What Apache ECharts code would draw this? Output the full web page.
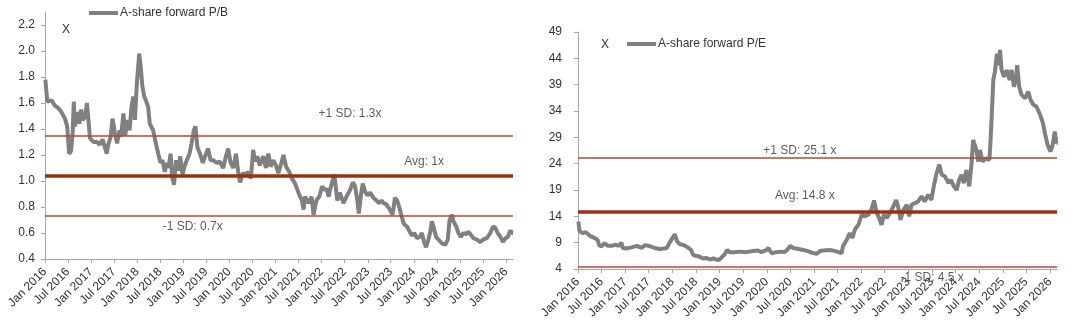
<!DOCTYPE html>
<html><head><meta charset="utf-8">
<script src="https://cdn.jsdelivr.net/npm/echarts@6/dist/echarts.min.js"></script>
<style>html,body{margin:0;padding:0;background:#fff}#c{width:1080px;height:326px}</style>
</head><body><div id="c"></div>
<script>
const tickLabels = ['Jan 2016','Jul 2016','Jan 2017','Jul 2017','Jan 2018','Jul 2018','Jan 2019','Jul 2019','Jan 2020','Jul 2020','Jan 2021','Jul 2021','Jan 2022','Jul 2022','Jan 2023','Jul 2023','Jan 2024','Jul 2024','Jan 2025','Jul 2025','Jan 2026'];
const pbTicks = [0.4,0.6,0.8,1.0,1.2,1.4,1.6,1.8,2.0,2.2];
const peTicks = [4,9,14,19,24,29,34,39,44,49];

const pbName = 'A-share forward P/B';
const peName = 'A-share forward P/E';

const pbDates = ['2016-01-04','2016-01-19','2016-02-22','2016-03-19','2016-04-16','2016-05-10','2016-06-07','2016-06-25','2016-07-10','2016-07-25','2016-08-07','2016-08-16','2016-08-25','2016-09-13','2016-09-28','2016-10-13','2016-10-25','2016-11-13','2016-11-28','2016-12-10','2016-12-22','2017-01-19','2017-02-16','2017-03-10','2017-04-01','2017-04-19','2017-05-04','2017-05-16','2017-06-04','2017-06-19','2017-07-07','2017-07-25','2017-08-13','2017-08-25','2017-09-13','2017-09-28','2017-10-13','2017-11-01','2017-11-16','2017-12-01','2017-12-13','2017-12-28','2018-01-16','2018-01-28','2018-02-10','2018-02-25','2018-03-10','2018-03-28',
'2018-04-10','2018-05-07','2018-05-28','2018-06-16','2018-07-04','2018-07-19','2018-08-07','2018-08-22','2018-09-04','2018-09-22','2018-10-04','2018-10-19','2018-11-04','2018-11-19','2018-12-07','2018-12-25','2019-01-10','2019-01-28','2019-02-19','2019-03-07','2019-03-25','2019-04-07','2019-04-22','2019-05-13','2019-06-04','2019-06-22','2019-07-16','2019-08-04','2019-08-25','2019-09-22','2019-10-16','2019-11-13','2019-12-04','2019-12-22','2020-01-10','2020-02-01','2020-02-22','2020-03-10','2020-03-25','2020-04-16','2020-05-04','2020-05-28','2020-06-19','2020-07-07','2020-07-22','2020-08-10','2020-08-28','2020-09-25','2020-10-16','2020-11-04','2020-11-22','2020-12-13','2021-01-04','2021-01-22','2021-02-16','2021-03-04','2021-03-25','2021-04-19',
'2021-05-10','2021-06-04','2021-07-01','2021-07-28','2021-08-10','2021-08-22','2021-09-19','2021-10-13','2021-10-28','2021-11-19','2021-12-13','2022-01-04','2022-01-22','2022-02-07','2022-02-25','2022-03-07','2022-03-22','2022-04-10','2022-04-25','2022-05-04','2022-05-25','2022-06-22','2022-07-16','2022-08-13','2022-09-04','2022-09-22','2022-10-10','2022-10-22','2022-11-07','2022-11-22','2022-12-10','2022-12-28','2023-01-19','2023-02-16','2023-03-10','2023-04-01','2023-04-19','2023-05-07','2023-05-28','2023-06-25','2023-07-16','2023-08-04','2023-08-22','2023-09-07','2023-09-25','2023-10-13','2023-11-07','2023-11-28','2023-12-16','2024-01-04','2024-01-25','2024-02-16','2024-03-04','2024-03-22','2024-04-07','2024-04-25','2024-05-10','2024-05-22','2024-06-04','2024-06-25','2024-07-13','2024-08-10','2024-09-07','2024-09-25','2024-10-10','2024-10-28','2024-11-10','2024-12-01','2024-12-19','2025-01-07','2025-01-28','2025-02-19','2025-03-07','2025-03-25','2025-04-16','2025-05-13','2025-06-10','2025-07-04','2025-08-01','2025-08-28','2025-09-19','2025-10-07','2025-10-25','2025-11-16','2025-12-07','2025-12-25','2026-01-13','2026-02-04','2026-02-16','2026-02-24'];
const pbValues = [1.78,1.61,1.62,1.58,1.56,1.53,1.48,1.42,1.21,1.23,1.37,1.61,1.42,1.53,1.44,1.55,1.47,1.49,1.60,1.47,1.33,1.30,1.30,1.28,1.32,1.26,1.21,1.28,1.34,1.48,1.37,1.29,1.39,1.34,1.52,1.35,1.47,1.39,1.57,1.65,1.47,1.74,1.98,1.88,1.73,1.65,1.62,1.57,
1.44,1.39,1.29,1.21,1.14,1.16,1.07,1.14,1.10,1.21,1.03,0.97,1.16,1.08,1.19,1.05,1.11,1.16,1.21,1.29,1.39,1.42,1.26,1.21,1.14,1.19,1.25,1.16,1.16,1.14,1.15,1.10,1.19,1.25,1.14,1.10,1.21,1.07,0.99,1.06,1.05,1.07,1.02,1.24,1.15,1.19,1.12,1.19,1.10,1.21,1.11,1.16,1.12,1.06,1.14,1.20,1.11,1.07,
1.02,0.98,0.91,0.85,0.78,0.88,0.83,0.88,0.74,0.85,0.88,0.96,0.93,0.94,0.88,0.93,0.98,1.05,0.93,0.85,0.91,0.83,0.88,0.93,0.99,0.96,0.85,0.75,0.89,0.98,0.92,0.89,0.91,0.87,0.85,0.83,0.85,0.83,0.82,0.78,0.74,0.87,0.85,0.80,0.73,0.67,0.65,0.61,0.58,0.60,0.56,0.57,0.60,0.53,0.49,0.55,0.61,0.69,0.65,0.57,0.55,0.52,0.51,0.55,0.70,0.74,0.69,0.65,0.60,0.57,0.60,0.59,0.61,0.59,0.56,0.55,0.53,0.55,0.56,0.60,0.65,0.64,0.60,0.57,0.53,0.56,0.57,0.62,0.60,0.60];

const peDates = ['2016-01-04','2016-01-13','2016-02-07','2016-03-01','2016-04-01','2016-05-07','2016-06-01','2016-06-13','2016-07-01','2016-07-25','2016-08-19','2016-09-16','2016-10-19','2016-11-13','2016-12-01','2016-12-13','2017-01-10','2017-02-19','2017-04-01','2017-05-07','2017-06-01','2017-07-01','2017-08-16','2017-09-25','2017-10-25','2017-11-19','2017-12-10','2018-01-04','2018-01-19','2018-02-07','2018-03-01','2018-04-01','2018-05-01','2018-05-25','2018-06-10','2018-06-28','2018-07-25','2018-08-25','2018-09-19','2018-10-16','2018-11-13','2018-12-07','2018-12-25','2019-01-13','2019-02-10','2019-03-01','2019-03-19','2019-04-28','2019-06-04','2019-07-25','2019-09-16','2019-10-25','2019-11-19','2019-12-28','2020-01-13','2020-02-07','2020-03-16','2020-04-22','2020-05-19','2020-06-13','2020-07-01','2020-07-22','2020-09-01','2020-10-10','2020-11-16','2020-12-13','2021-01-22','2021-02-16','2021-03-13','2021-05-04','2021-06-16','2021-08-01',
'2021-08-13','2021-09-10','2021-10-04','2021-10-25','2021-11-13','2021-12-10','2022-01-04','2022-01-28','2022-02-25','2022-03-19','2022-04-10','2022-04-28','2022-05-19','2022-06-07','2022-06-25','2022-07-19','2022-08-10','2022-09-01','2022-09-28','2022-10-13','2022-11-01','2022-11-22','2022-12-19','2023-01-07','2023-01-25','2023-02-22','2023-03-16','2023-04-13','2023-05-07','2023-06-04','2023-06-28','2023-07-16','2023-08-07','2023-08-28','2023-09-16','2023-10-10','2023-11-07','2023-11-25','2023-12-19','2024-01-10','2024-01-28','2024-02-16','2024-03-04','2024-03-25','2024-04-16','2024-05-04','2024-05-16','2024-06-07','2024-06-25',
'2024-07-07','2024-07-28','2024-08-22','2024-09-19','2024-09-28','2024-10-10','2024-10-19','2024-11-01','2024-11-16','2024-11-28','2024-12-10','2024-12-22','2025-01-10','2025-02-01','2025-02-22','2025-03-10','2025-03-28','2025-04-13','2025-04-22','2025-05-07','2025-05-25','2025-06-22','2025-07-16','2025-08-04','2025-08-25','2025-09-19','2025-10-16','2025-11-07','2025-11-25','2025-12-13','2026-01-04','2026-01-19','2026-02-07','2026-02-19','2026-02-24'];
const peValues = [13.0,11.2,10.8,11.0,10.3,9.9,9.5,8.5,8.3,8.9,8.4,8.4,8.6,8.4,9.0,8.0,7.9,8.1,8.4,8.0,8.5,8.4,8.0,7.8,7.9,8.0,9.0,10.0,10.6,9.2,8.7,8.5,8.1,7.6,6.7,6.5,6.4,6.0,6.1,5.8,6.0,5.8,5.7,6.1,6.8,7.6,7.2,7.2,7.3,7.2,7.4,7.5,7.2,7.6,8.0,7.0,7.2,7.3,7.2,7.8,8.4,8.0,7.8,7.6,7.4,7.1,6.9,7.4,7.5,7.6,7.4,7.0,
8.3,9.5,10.8,9.9,11.5,12.4,14.3,14.0,14.3,15.2,17.0,14.9,13.7,12.4,14.3,13.7,14.6,15.6,17.1,15.9,13.3,15.2,16.2,14.0,16.2,16.5,16.8,17.8,16.8,18.1,17.1,19.7,22.2,23.8,21.9,21.6,20.3,20.9,19.7,19.0,20.9,21.9,20.3,22.8,19.7,24.1,28.5,26.9,24.4,
26.6,24.4,25.0,24.7,28.5,34.8,39.9,41.5,44.9,42.7,45.6,41.8,40.5,41.8,39.9,41.8,38.6,40.2,42.7,38.6,37.1,36.4,37.7,36.1,35.2,34.8,33.3,31.7,29.5,27.6,26.3,27.3,30.1,27.9,28.0];

const pbLevels = [1.35, 1.04, 0.73];
const peLevels = [25.2, 14.8, 4.5];
const pbNotes = ['+1 SD: 1.3x', 'Avg: 1x', '-1 SD: 0.7x'];
const pbNoteDates = ['2022-08-13', '2024-03-22', '2019-03-16'];
const pbNoteValues = [1.52, 1.145, 0.645];
const peNotes = ['+1 SD: 25.1 x', 'Avg: 14.8 x', '-1 SD: 4.5 x'];
const peNoteDates = ['2020-09-13', '2020-10-22', '2023-07-04'];
const peNoteValues = [26.4, 17.95, 2.3];

const FONT = 'Liberation Sans, Arial, sans-serif';
const TXT = '#333';
const AX = '#a6a6a6';
const monthIdx = {Jan:0, Jul:6};
function ts(s){ const p = s.split('-'); return Date.UTC(+p[0], +p[1]-1, +p[2]); }
const tickValues = tickLabels.map(s => { const p = s.split(' '); return Date.UTC(+p[1], monthIdx[p[0]], 1); });
function fmtX(v){ const i = tickValues.indexOf(v); return i >= 0 ? tickLabels[i] : ''; }
const xMin = ts('2016-01-01');
const xMax = ts('2026-02-24');

function xAxis(gi){
  return {type:'value', gridIndex:gi, min:xMin, max:xMax, scale:true,
    axisLine:{show:true, onZero:false, lineStyle:{color:AX, width:1}},
    axisTick:{show:true, customValues:tickValues, length:4, lineStyle:{color:AX}},
    axisLabel:{customValues:tickValues, formatter:fmtX, rotate:45, color:TXT, fontFamily:FONT, fontSize:12, margin:11, hideOverlap:false},
    splitLine:{show:false}};
}
function yAxis(gi, mn, mx, iv, ticks, dec, mg){
  return {type:'value', gridIndex:gi, min:mn, max:mx, interval:iv,
    axisLine:{show:true, lineStyle:{color:AX, width:1}},
    axisTick:{show:true, customValues:ticks, length:4, lineStyle:{color:AX}},
    axisLabel:{customValues:ticks, color:TXT, fontFamily:FONT, fontSize:12, margin:mg, formatter:v => v.toFixed(dec)},
    splitLine:{show:false}};
}
function levels(arr){
  const sd = {color:'#b24a31', width:1.6, type:'solid'};
  const avg = {color:'#9e2f17', width:3.5, type:'solid'};
  return {silent:true, symbol:['none','none'], label:{show:false},
    data:[{yAxis:arr[0], lineStyle:sd},{yAxis:arr[1], lineStyle:avg},{yAxis:arr[2], lineStyle:sd}]};
}
function notes(gi, txt, ds, vs){
  return {type:'scatter', xAxisIndex:gi, yAxisIndex:gi, clip:false, silent:true, z:10, symbolSize:0,
    data: txt.map((t,i)=>({value:[ts(ds[i]), vs[i]], label:{show:true, position:'inside', formatter:t, color:TXT, fontFamily:FONT, fontSize:12}}))};
}

const chart = echarts.init(document.getElementById('c'), null, {renderer:'canvas'});
chart.setOption({
  animation:false,
  textStyle:{fontFamily:FONT},
  grid:[
    {left:45, top:12, width:468, height:247},
    {left:578, top:32, width:479, height:237}
  ],
  xAxis:[xAxis(0), xAxis(1)],
  yAxis:[yAxis(0,0.4,2.3,0.2,pbTicks,1,10), yAxis(1,4,49,5,peTicks,0,16)],
  legend:[
    {data:[pbName], left:89, top:7, icon:'rect', itemWidth:29, itemHeight:4, itemGap:0, padding:0,
      textStyle:{color:TXT, fontFamily:FONT, fontSize:12, padding:[0,0,0,-3]}},
    {data:[peName], left:627, top:38, icon:'rect', itemWidth:29, itemHeight:4, itemGap:0, padding:0,
      textStyle:{color:TXT, fontFamily:FONT, fontSize:12, padding:[0,0,0,-3]}}
  ],
  graphic:[
    {type:'text', left:62, top:24, style:{text:'X', font:'12px '+FONT, fill:TXT}},
    {type:'text', left:601, top:39, style:{text:'X', font:'12px '+FONT, fill:TXT}}
  ],
  series:[
    {name:pbName, type:'line', xAxisIndex:0, yAxisIndex:0, showSymbol:false, color:'#808080',
      lineStyle:{color:'#808080', width:4}, data:pbDates.map((d,i)=>[ts(d),pbValues[i]]), markLine:levels(pbLevels)},
    {name:peName, type:'line', xAxisIndex:1, yAxisIndex:1, showSymbol:false, color:'#808080',
      lineStyle:{color:'#808080', width:4}, data:peDates.map((d,i)=>[ts(d),peValues[i]]), markLine:levels(peLevels)},
    notes(0, pbNotes, pbNoteDates, pbNoteValues),
    notes(1, peNotes, peNoteDates, peNoteValues)
  ]
});
</script></body></html>
